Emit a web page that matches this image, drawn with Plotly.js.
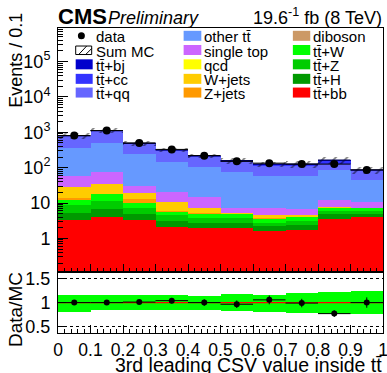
<!DOCTYPE html>
<html><head><meta charset="utf-8">
<script src="https://cdn.plot.ly/plotly-3.0.1.min.js"></script>
<style>html,body{margin:0;padding:0;background:#fff}#chart{width:387px;height:373px}</style>
</head><body><div id="chart"></div>
<script>
// ---------------- data ----------------
const binEdges = [0,0.1,0.2,0.3,0.4,0.5,0.6,0.7,0.8,0.9,1.0];
const ttbb      = [3.25,4.0,3.3,2.14,1.92,2.0,1.61,1.69,3.6,4.1];
const ttH       = [2.05,2.9,1.5,0.96,0.8,0.8,0.63,0.7,1.2,0.9];
const ttZ       = [3.5,4.6,2.3,1.4,0.98,0.9,0.56,0.71,1.2,1.0];
const ttW       = [3.4,6.3,3.2,1.2,1.3,1.1,0.8,0.9,1.1,1.1];
const diboson   = [0.02,0.02,0.02,0.01,0.01,0.01,0.01,0.01,0.01,0.01];
const zjets     = [1.5,0.7,2.5,0.3,0.1,0.1,0.1,0.05,0.1,0.0];
const wjets     = [14.9,15.5,7.0,4.7,2.0,0.4,0.9,0.55,0.7,0.05];
const qcd       = [0,0,0,0,0,0,0,0,0,0];
const singleTop = [30.4,39,10.8,10,7.8,1.8,2.5,2.1,4.1,3.6];
const otherTT   = [292,427,212.4,119.3,86.1,65.9,51.9,52.3,74,33.3];
const ttqq      = [415,570,221,157,103,73,56,56,45,36];
const ttcc      = [22,28,13,10,7,6,6,6,25,4];
const ttbj      = [17,22,11,9,7,5,6,6,8,2];
const dataVals  = [805,1120,500,328,218,151,134,126,126,86];
const ratioVals = [1.0,1.0,1.01,1.04,1.0,0.965,1.056,0.99,0.77,1.0];
const bandHi    = [1.16,1.16,1.16,1.15,1.146,1.18,1.167,1.2,1.215,1.235];
const bandLo    = [0.81,0.85,0.85,0.85,0.848,0.83,0.80,0.785,0.765,0.765];
const yTickVals = [1,10,100,1000,10000,100000];
const yTickText = ['1','10','10<sup>2</sup>','10<sup>3</sup>','10<sup>4</sup>','10<sup>5</sup>'];
const xTickVals = [0,0.1,0.2,0.3,0.4,0.5,0.6,0.7,0.8,0.9,1];
const xTickText = ['0','0.1','0.2','0.3','0.4','0.5','0.6','0.7','0.8','0.9','1'];

const TT = 'tt\u0304';
const components = [
  {name: TT+'+bb', vals: ttbb, color:'#ff0000'},
  {name: TT+'+H', vals: ttH, color:'#009900'},
  {name: TT+'+Z', vals: ttZ, color:'#00cc00'},
  {name: TT+'+W', vals: ttW, color:'#00ff00'},
  {name: 'diboson', vals: diboson, color:'#cc9966'},
  {name: 'Z+jets', vals: zjets, color:'#ff9900'},
  {name: 'W+jets', vals: wjets, color:'#ffcc00'},
  {name: 'qcd', vals: qcd, color:'#ffff00'},
  {name: 'single top', vals: singleTop, color:'#cc66ff'},
  {name: 'other '+TT, vals: otherTT, color:'#6699ff'},
  {name: TT+'+qq', vals: ttqq, color:'#6666ff'},
  {name: TT+'+cc', vals: ttcc, color:'#3333ff'},
  {name: TT+'+bj', vals: ttbj, color:'#0000cc'}
];

const nb = binEdges.length-1;
const centers = [], widths = [];
for (let i=0;i<nb;i++){ centers.push((binEdges[i]+binEdges[i+1])/2); widths.push(binEdges[i+1]-binEdges[i]); }
const total = centers.map((_,i)=>components.reduce((s,c)=>s+c.vals[i],0));

const traces = [];
components.forEach(c=>{
  traces.push({type:'bar', x:centers, y:c.vals, width:widths, xaxis:'x', yaxis:'y',
    marker:{color:c.color, line:{width:0}}, showlegend:false, hoverinfo:'skip'});
});
// hatched MC uncertainty
traces.push({type:'bar', x:centers, base: total.map((t,i)=>t*bandLo[i]), y: total.map((t,i)=>t*(bandHi[i]-bandLo[i])),
  width:widths, xaxis:'x', yaxis:'y',
  marker:{color:'rgba(0,0,0,0)', line:{width:0}, pattern:{shape:'/', fgcolor:'#000000', bgcolor:'rgba(0,0,0,0)', size:8, solidity:0.22, fillmode:'overlay'}},
  showlegend:false, hoverinfo:'skip'});
// sum MC outline
const lx=[], ly=[];
for (let i=0;i<nb;i++){ lx.push(binEdges[i],binEdges[i+1],null); ly.push(total[i],total[i],null); }
traces.push({type:'scatter', mode:'lines', x:lx, y:ly, xaxis:'x', yaxis:'y', line:{color:'#000055', width:1.2}, showlegend:false, hoverinfo:'skip'});
// data
traces.push({type:'scatter', mode:'markers', x:centers, y:dataVals, xaxis:'x', yaxis:'y',
  marker:{color:'#000', size:8},
  error_y:{type:'data', array:dataVals.map(v=>Math.sqrt(v)), color:'#000', thickness:1, width:0},
  error_x:{type:'data', array:widths.map(w=>w/2), color:'#000', thickness:1, width:0},
  showlegend:false, hoverinfo:'skip'});
// ratio band
traces.push({type:'bar', x:centers, base:bandLo, y:bandHi.map((h,i)=>h-bandLo[i]), width:widths, xaxis:'x2', yaxis:'y2',
  marker:{color:'#00ff00', line:{width:0}}, showlegend:false, hoverinfo:'skip'});
// red line at 1
traces.push({type:'scatter', mode:'lines', x:[binEdges[0], binEdges[nb]], y:[1,1], xaxis:'x2', yaxis:'y2',
  line:{color:'#ff0000', width:1.2}, showlegend:false, hoverinfo:'skip'});
// ratio points
traces.push({type:'scatter', mode:'markers', x:centers, y:ratioVals, xaxis:'x2', yaxis:'y2',
  marker:{color:'#000', size:6},
  error_y:{type:'data', array:ratioVals.map((r,i)=>r/Math.sqrt(dataVals[i])), color:'#000', thickness:1, width:0},
  error_x:{type:'data', array:widths.map(w=>w/2), color:'#000', thickness:1, width:0},
  showlegend:false, hoverinfo:'skip'});

// ---------------- layout ----------------
const W=387, H=373, L=58.3, R=383.5, T=28, B=332.7, RT=271.7;
const px2x = p => (p-L)/(R-L);
const px2y = p => (B-p)/(B-T);
const yr = px2y(RT);
const FONT = 'Liberation Sans, Arial, Helvetica, sans-serif';

const minorY = [];
for (let e=-1;e<=5;e++) for (let d=2; d<=9; d++) minorY.push(d*Math.pow(10,e));

const annotations = [], shapes = [];
function ann(text, x, y, size, xanchor, extra){
  annotations.push(Object.assign({text:text, xref:'paper', yref:'paper', x:px2x(x), y:px2y(y), xanchor:xanchor||'left', yanchor:'middle',
    showarrow:false, font:{family:FONT, size:size, color:'#000'}, borderpad:0}, extra||{}));
}
ann('<b>CMS</b>', 57, 17, 22, 'left');
ann('<i>Preliminary</i>', 107.5, 18, 18, 'left');
ann('19.6<sup>-1</sup> fb (8 TeV)', 384, 17, 18, 'right');
ann('Events / 0.1', 16, 60, 18, 'center', {textangle:-90});
ann('Data/MC', 16, 309, 19, 'center', {textangle:-90});
ann('3rd leading CSV value inside '+TT, 384, 365, 19.5, 'right');

// legend (manual)
const rowY = [35.8, 50, 64.3, 78.8, 92.5];
const colSw = [[76,93],[184,201.7],[293.3,310.7]];
const colTx = [95, 203.3, 312.7];
const byName = {}; components.forEach(c=>byName[c.name]=c);
const legendCols = [
  ['data','Sum MC', TT+'+bj', TT+'+cc', TT+'+qq'],
  ['other '+TT, 'single top', 'qcd', 'W+jets', 'Z+jets'],
  ['diboson', TT+'+W', TT+'+Z', TT+'+H', TT+'+bb']
];
legendCols.forEach((col,ci)=>{
  col.forEach((name,ri)=>{
    const yc = rowY[ri];
    const [x0,x1] = colSw[ci];
    if (name==='data'){
      shapes.push({type:'circle', xref:'paper', yref:'paper', x0:px2x(81.7-3.5), x1:px2x(81.7+3.5), y0:px2y(yc+3.5), y1:px2y(yc-3.5), fillcolor:'#000', line:{width:0}});
    } else if (name==='Sum MC'){
      shapes.push({type:'rect', xref:'paper', yref:'paper', x0:px2x(76), x1:px2x(92), y0:px2y(yc+4.5), y1:px2y(yc-4), fillcolor:'rgba(0,0,0,0)', line:{color:'#000', width:1}});
      shapes.push({type:'line', xref:'paper', yref:'paper', x0:px2x(79), x1:px2x(87), y0:px2y(yc+4.5), y1:px2y(yc-4), line:{color:'#000', width:1}});
      shapes.push({type:'line', xref:'paper', yref:'paper', x0:px2x(86), x1:px2x(92), y0:px2y(yc+4.5), y1:px2y(yc-1.5), line:{color:'#000', width:1}});
    } else {
      shapes.push({type:'rect', xref:'paper', yref:'paper', x0:px2x(x0), x1:px2x(x1), y0:px2y(yc+5), y1:px2y(yc-5), fillcolor:byName[name].color, line:{width:0}});
    }
    ann(name, colTx[ci], yc+1, 15, 'left');
  });
});

const axCommon = {showline:true, mirror:true, linecolor:'#000', linewidth:1, showgrid:false, zeroline:false, ticks:'inside', tickcolor:'#000'};
const layout = {
  width:W, height:H, margin:{l:L, r:W-R, t:T, b:H-B, pad:0},
  paper_bgcolor:'#fff', plot_bgcolor:'#fff', barmode:'stack', bargap:0, showlegend:false,
  font:{family:FONT, color:'#000'},
  xaxis: Object.assign({}, axCommon, {domain:[0,1], anchor:'y', range:[binEdges[0],binEdges[nb]], showticklabels:false,
    tickmode:'array', tickvals:xTickVals, ticklen:8, minor:{ticks:'inside', ticklen:4, dtick:0.02, tick0:0, tickcolor:'#000'}}),
  yaxis: Object.assign({}, axCommon, {domain:[yr,1], anchor:'x', type:'log', range:[-0.95,5.95],
    tickmode:'array', tickvals:yTickVals, ticktext:yTickText, ticklen:10, tickfont:{size:18, family:FONT},
    ticklabelstandoff:3, minor:{ticks:'inside', ticklen:5, tickmode:'array', tickvals:minorY, tickcolor:'#000'}}),
  xaxis2: Object.assign({}, axCommon, {domain:[0,1], anchor:'y2', range:[binEdges[0],binEdges[nb]],
    tickmode:'array', tickvals:xTickVals, ticktext:xTickText, ticklen:8, tickfont:{size:17.5, family:FONT},
    ticklabelstandoff:1, ticklabeloverflow:'allow', minor:{ticks:'inside', ticklen:4, dtick:0.02, tick0:0, tickcolor:'#000'}}),
  yaxis2: Object.assign({}, axCommon, {domain:[0,yr], anchor:'x2', range:[0.367,1.637],
    tickmode:'array', tickvals:[0.5,1,1.5], ticktext:['0.5','1','1.5'], ticklen:8, tickfont:{size:18, family:FONT},
    ticklabelstandoff:3, showgrid:true, gridcolor:'#000', griddash:'dot', gridwidth:1}),
  annotations: annotations, shapes: shapes
};
Plotly.newPlot('chart', traces, layout, {staticPlot:true, displayModeBar:false});
</script></body></html>
